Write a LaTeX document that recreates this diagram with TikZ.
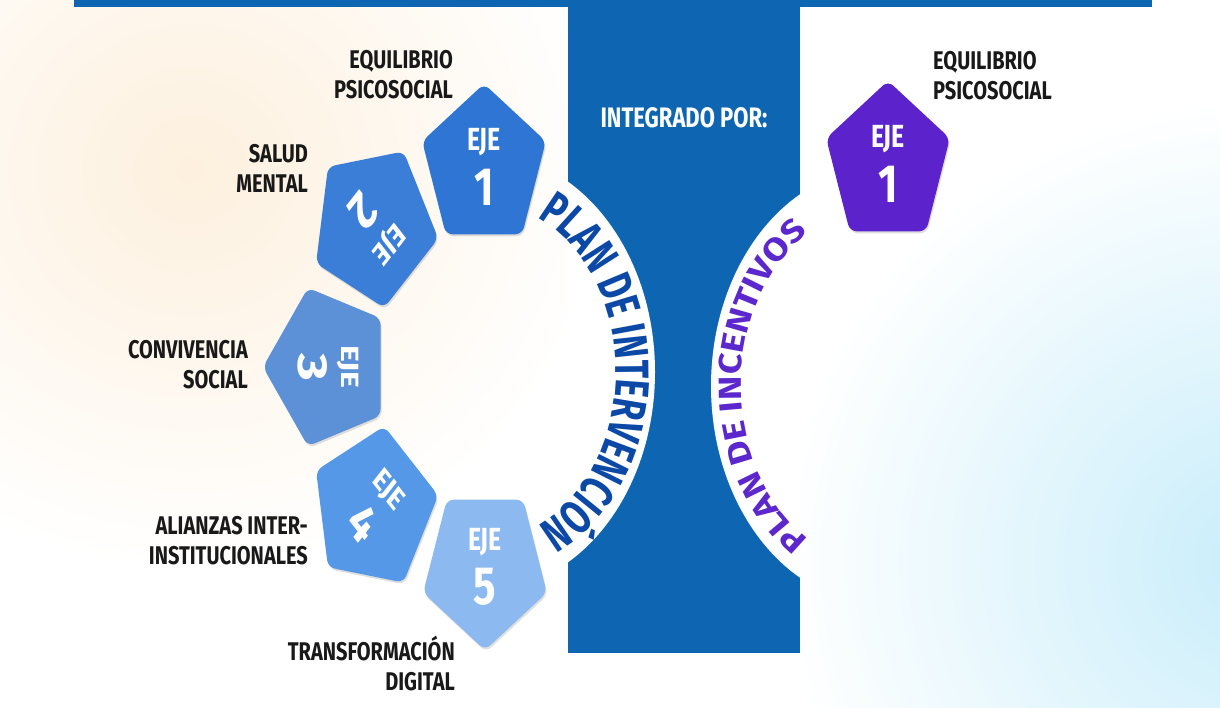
\documentclass[tikz,border=0pt]{standalone}
\usepackage{fontspec}
\setmainfont{Fira Sans}
\newfontfamily\planfont{Fira Sans}[FakeStretch=0.71]
\newfontfamily\incfont{Fira Sans}[FakeStretch=1.15]
\usetikzlibrary{shapes.geometric,decorations.text,shadows}

\definecolor{colblue}{RGB}{14,102,178}
\definecolor{planblue}{RGB}{12,72,165}
\definecolor{incpurple}{RGB}{92,40,205}
\definecolor{ejeA}{RGB}{47,118,212}
\definecolor{ejeB}{RGB}{58,126,216}
\definecolor{ejeC}{RGB}{92,145,216}
\definecolor{ejeD}{RGB}{86,152,232}
\definecolor{ejeE}{RGB}{140,185,240}
\definecolor{ejeP}{RGB}{92,34,204}
\definecolor{warmglow}{RGB}{253,240,222}
\definecolor{iceglow}{RGB}{200,237,250}

\newcommand{\ejetxt}[1]{{\fontsize{25}{28}\selectfont EJE}\\[9pt]{\fontsize{42}{44}\selectfont #1}}

\begin{document}
\begin{tikzpicture}[x=1pt,y=1pt]
\tikzstyle{pent} = [regular polygon, regular polygon sides=5, minimum size=130pt,
inner sep=0pt, rounded corners=7pt, yscale=1.28, text=white, align=center,
font=\bfseries, drop shadow={shadow xshift=1pt, shadow yshift=-2pt, opacity=0.25}]
\tikzstyle{lab_l} = [anchor=east, align=right, inner sep=0pt, yscale=1.28,
font=\bfseries\fontsize{20}{23.4}\selectfont, text=black!90]
\tikzstyle{lab_r} = [anchor=west, align=left, inner sep=0pt, yscale=1.28,
font=\bfseries\fontsize{20}{23.4}\selectfont, text=black!90]

% background
\useasboundingbox (0,0) rectangle (1220,-708);
\fill[white] (0,0) rectangle (1220,-708);
\begin{scope}
\clip (0,0) rectangle (1220,-708);
\shade[inner color=warmglow, outer color=white] (190,-170) ellipse (420 and 400);
\shade[inner color=iceglow, outer color=white] (1260,-560) ellipse (480 and 460);
\end{scope}

% bar and column
\fill[colblue] (74,0) rectangle (1152,-7);
\fill[colblue] (568,0) rectangle (800,-653);
\coordinate (ringL) at (485,-372);
\coordinate (ringR) at (881,-386);
\begin{scope}
\clip (568,0) rectangle (800,-653);
\fill[white] (ringL) ellipse (170 and 218);
\fill[white] (ringR) ellipse (170 and 218);
\end{scope}
\node[white, font=\bfseries\fontsize{22}{24}\selectfont, yscale=1.28] (integ) at (684,-118) {INTEGRADO POR:};

% curved titles
\path[decorate, decoration={text along path, text align=center, text color=planblue,
text={|\planfont\bfseries\fontsize{48}{48}\selectfont|PLAN DE INTERVENCIÓN}}]
(ringL) ++(80:131 and 168) arc[start angle=80, end angle=-80, x radius=131, y radius=168];
\path[decorate, decoration={text along path, text align=center, text color=incpurple,
text={|\incfont\bfseries\fontsize{32}{32}\selectfont|PLAN DE INCENTIVOS}}]
(ringR) ++(250:140 and 179) arc[start angle=250, end angle=110, x radius=140, y radius=179];

% ejes
\coordinate (ring) at (485,-367);
\node[pent, fill=ejeA] (eje1) at (484,-167) {\ejetxt{1}};
\node[pent, fill=ejeB, shape border rotate=180, rotate=-135] (eje2) at ([shift={(135:157 and 200)}]ring) {\ejetxt{2}};
\node[pent, fill=ejeC, shape border rotate=180, rotate=-90] (eje3) at ([shift={(180:157 and 200)}]ring) {\ejetxt{3}};
\node[pent, fill=ejeD, shape border rotate=180, rotate=-45] (eje4) at ([shift={(225:157 and 200)}]ring) {\ejetxt{4}};
\node[pent, fill=ejeE, shape border rotate=180] (eje5) at ([shift={(270:157 and 200)}]ring) {\ejetxt{5}};
\node[pent, fill=ejeP] (inc1) at (888,-164) {\ejetxt{1}};

% labels
\node[lab_l] (lab1) at (453,-75) {EQUILIBRIO\\PSICOSOCIAL};
\node[lab_l] (lab2) at (308,-168) {SALUD\\MENTAL};
\node[lab_l] (lab3) at (248,-365) {CONVIVENCIA\\SOCIAL};
\node[lab_l] (lab4) at (308,-541) {ALIANZAS INTER-\\INSTITUCIONALES};
\node[lab_l] (lab5) at (455,-663) {TRANSFORMACIÓN\\DIGITAL};
\node[lab_r] (labr1) at (933,-76) {EQUILIBRIO\\PSICOSOCIAL};
\end{tikzpicture}
\end{document}
